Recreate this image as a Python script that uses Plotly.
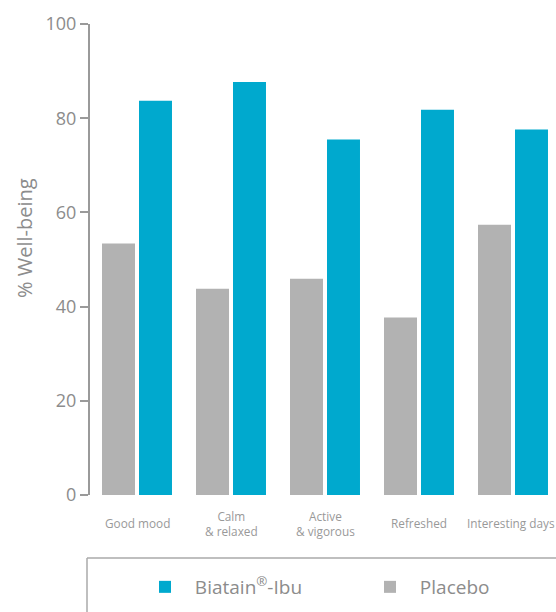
import plotly.graph_objects as go

categories = ["Good mood", "Calm<br>& relaxed", "Active<br>& vigorous", "Refreshed", "Interesting days"]
placebo = [53.4, 43.8, 45.9, 37.7, 57.4]
biatain = [83.7, 87.7, 75.5, 81.8, 77.6]
y_ticks = [0, 20, 40, 60, 80, 100]
series_names = ["\u00a0\u00a0Placebo", "\u00a0\u00a0Biatain<sup>®</sup>-Ibu"]

BLUE = "#00a9ce"
GRAY = "#b2b2b2"
TXT = "#8c8c8c"
FONT = "Open Sans"

fig = go.Figure()
fig.add_trace(go.Bar(x=categories, y=placebo, name=series_names[0], marker_color=GRAY, marker_line_width=0))
fig.add_trace(go.Bar(x=categories, y=biatain, name=series_names[1], marker_color=BLUE, marker_line_width=0))

W, H = 556, 612
L, R, T, B = 90, 0, 24, 117
pw = W - L - R
ph = H - T - B
step = 94.0
xmax = -0.5 + pw / step

fig.update_layout(
    width=W, height=H,
    margin=dict(l=L, r=R, t=T, b=B, autoexpand=False),
    paper_bgcolor="white", plot_bgcolor="white",
    barmode="group", bargap=0.213, bargroupgap=0.108,
    font=dict(family=FONT, color=TXT),
    showlegend=True,
    legend=dict(orientation="h", traceorder="reversed",
                x=(145 - L) / pw, xanchor="left",
                y=(H - B - 587) / ph, yanchor="middle",
                font=dict(size=19, color=TXT, family=FONT),
                entrywidth=180, entrywidthmode="pixels",
                bgcolor="rgba(0,0,0,0)"),
)
fig.update_xaxes(range=[-0.5, xmax], showticklabels=False, showline=False, ticks="",
                 showgrid=False, zeroline=False, fixedrange=True)
fig.update_yaxes(range=[0, 100], tickvals=y_ticks, showgrid=False, zeroline=False,
                 showline=True, linecolor="#9a9a9a", linewidth=2,
                 ticks="outside", ticklen=8, tickwidth=2, tickcolor="#9a9a9a",
                 tickfont=dict(size=18, color=TXT), ticklabelstandoff=0, fixedrange=True)

# y-axis title
fig.add_annotation(text="% Well-being", xref="paper", yref="paper",
                   x=(24 - L) / pw, y=(H - B - 238) / ph, showarrow=False,
                   textangle=-90, xanchor="center", yanchor="middle",
                   font=dict(size=20, color=TXT, family=FONT))

for i, c in enumerate(categories):
    fig.add_annotation(x=c, xref="x", y=(H - B - 523) / ph, yref="paper",
                       text=c, showarrow=False, yanchor="middle", xanchor="center",
                       xshift=-2 if i == len(categories) - 1 else 0,
                       font=dict(size=11.8, color="#999999", family=FONT), align="center")

# legend frame
x0 = (87 - L) / pw
ytop = (H - B - 558) / ph
ybot = (H - B - 612) / ph
fig.add_shape(type="line", xref="paper", yref="paper", x0=x0, x1=1.01, y0=ytop, y1=ytop,
              line=dict(color="#aaaaaa", width=1.5))
fig.add_shape(type="line", xref="paper", yref="paper", x0=x0, x1=x0, y0=ytop, y1=ybot,
              line=dict(color="#aaaaaa", width=1.5))

fig.write_html("out.html", config={"displayModeBar": False, "staticPlot": True},
               post_script="document.body.style.margin='0';document.body.style.overflow='hidden';")
